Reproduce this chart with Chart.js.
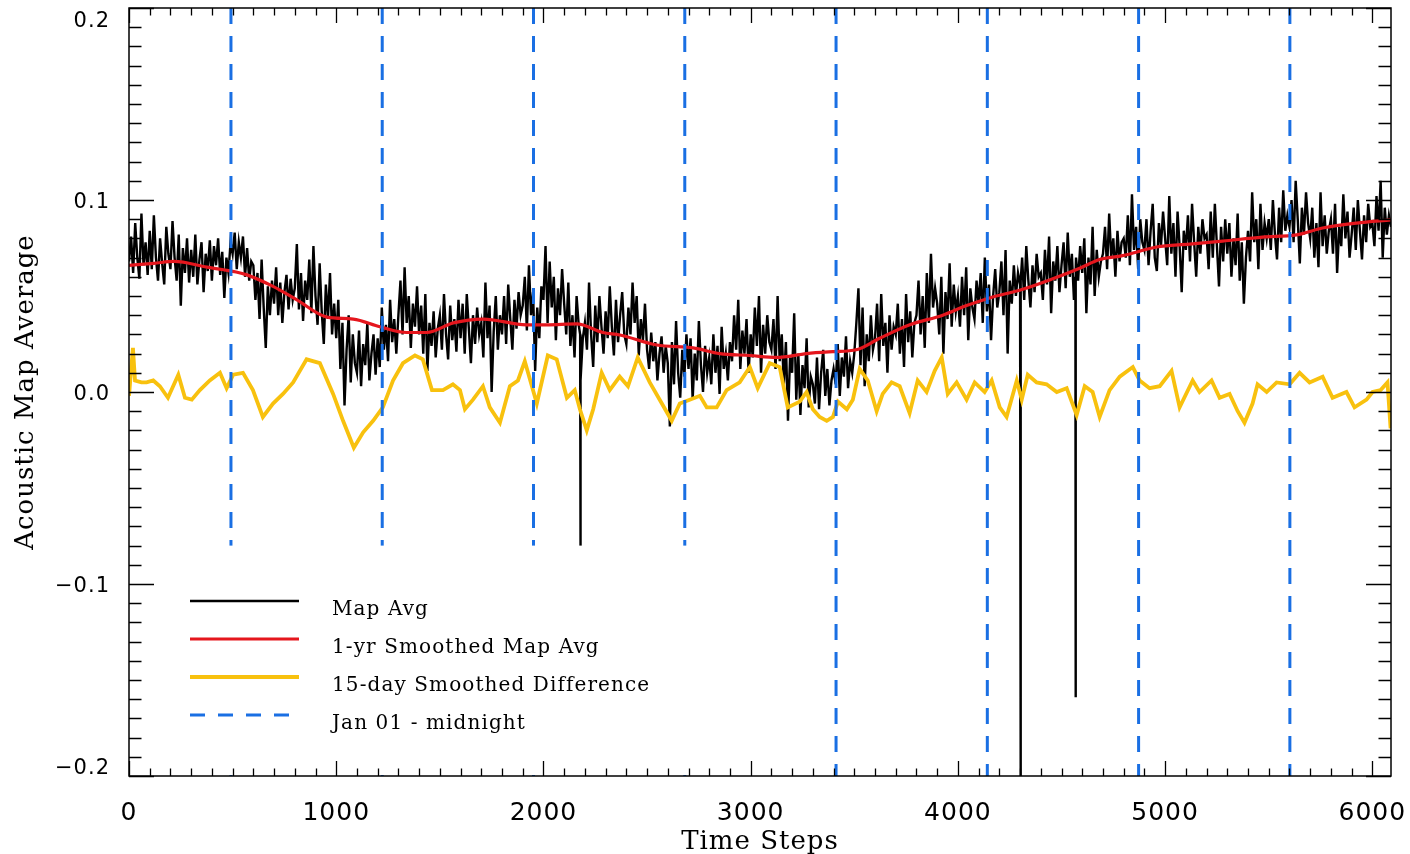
<!DOCTYPE html>
<html>
<head>
<meta charset="utf-8">
<script src="https://cdn.jsdelivr.net/npm/chart.js@4"></script>
<style>
  html, body { margin: 0; padding: 0; background: #fff; }
  #wrap { width: 1410px; height: 854px; }
</style>
</head>
<body>
<div id="wrap"><canvas id="chart" width="1410" height="854"></canvas></div>
<script>
  // Map Avg, one value every 10 time steps (one row = 100 steps)
  const STEP = 10;
  const mapAvg = [
    0.068, 0.081, 0.062, 0.088, 0.070, 0.059, 0.093, 0.066, 0.078, 0.061,   // 0
    0.084, 0.064, 0.092, 0.070, 0.058, 0.080, 0.067, 0.056, 0.086, 0.072,
    0.064, 0.089, 0.070, 0.058, 0.082, 0.045, 0.075, 0.062, 0.080, 0.057,
    0.074, 0.060, 0.082, 0.056, 0.069, 0.078, 0.052, 0.072, 0.063, 0.079,
    0.058, 0.076, 0.066, 0.080, 0.061, 0.073, 0.049, 0.070, 0.062, 0.078,
    0.072, 0.083, 0.064, 0.078, 0.070, 0.081, 0.060, 0.075, 0.058, 0.068,   // 500
    0.066, 0.048, 0.062, 0.038, 0.069, 0.044, 0.023, 0.055, 0.040, 0.058,
    0.046, 0.065, 0.040, 0.057, 0.036, 0.052, 0.061, 0.043, 0.059, 0.048,
    0.054, 0.077, 0.043, 0.062, 0.037, 0.058, 0.048, 0.069, 0.041, 0.076,
    0.050, 0.035, 0.067, 0.042, 0.025, 0.056, 0.038, 0.062, 0.030, 0.046,
    0.028, 0.048, 0.012, 0.036, -0.007, 0.022, 0.040, 0.005, 0.030, 0.015, // 1000
    0.010, 0.032, 0.003, 0.025, 0.014, 0.036, 0.006, 0.020, 0.030, 0.009,
    0.028, 0.013, 0.044, 0.022, 0.035, 0.016, 0.048, 0.026, 0.038, 0.020,
    0.040, 0.058, 0.030, 0.065, 0.036, 0.050, 0.023, 0.046, 0.034, 0.055,
    0.030, 0.045, 0.020, 0.051, 0.011, 0.036, 0.024, 0.042, 0.018, 0.033,
    0.040, 0.022, 0.051, 0.030, 0.017, 0.045, 0.027, 0.038, 0.021, 0.048,   // 1500
    0.028, 0.046, 0.020, 0.051, 0.033, 0.015, 0.040, 0.025, 0.044, 0.030,
    0.036, 0.018, 0.057, 0.028, 0.045, 0.000, 0.032, 0.050, 0.022, 0.040,
    0.030, 0.050, 0.025, 0.056, 0.038, 0.022, 0.048, 0.033, 0.052, 0.040,
    0.045, 0.060, 0.032, 0.066, 0.040, 0.052, 0.011, 0.044, 0.028, 0.055,
    0.048, 0.076, 0.036, 0.068, 0.044, 0.060, 0.027, 0.054, 0.040, 0.064,   // 2000
    0.046, 0.030, 0.057, 0.024, 0.040, 0.018, 0.050, 0.035, 0.006, 0.028,
    0.036, 0.022, 0.057, 0.030, 0.013, 0.045, 0.026, 0.050, 0.034, 0.020,
    0.042, 0.028, 0.055, 0.034, 0.019, 0.048, 0.026, 0.040, 0.052, 0.030,
    0.025, 0.044, 0.030, 0.057, 0.036, 0.050, 0.019, 0.038, 0.027, 0.046,
    0.022, 0.012, 0.031, 0.016, 0.026, 0.006, 0.020, 0.029, 0.010, 0.024,   // 2500
    0.015, -0.018, 0.026, 0.004, 0.037, 0.010, -0.003, 0.022, 0.008, 0.030,
    0.012, 0.028, -0.004, 0.020, 0.006, 0.037, 0.014, 0.000, 0.024, 0.010,
    0.018, 0.004, 0.030, 0.010, 0.024, -0.001, 0.034, 0.012, 0.020, 0.006,
    0.026, 0.016, 0.040, 0.022, 0.048, 0.012, 0.032, 0.020, 0.038, 0.010,
    0.030, 0.018, 0.044, 0.024, 0.050, 0.010, 0.035, 0.020, 0.040, 0.026,   // 3000
    0.022, 0.038, 0.012, 0.050, 0.016, 0.030, 0.004, 0.026, -0.015, 0.018,
    0.010, 0.041, -0.004, 0.020, -0.012, 0.014, 0.002, 0.028, -0.008, 0.008,
    0.004, -0.006, 0.018, -0.009, 0.010, 0.022, -0.002, 0.012, -0.007, 0.006,
    0.012, 0.004, 0.025, -0.002, 0.018, 0.008, 0.029, 0.002, 0.016, 0.010,
    0.020, 0.036, 0.054, 0.014, 0.044, 0.003, 0.030, 0.016, 0.040, 0.022,   // 3500
    0.028, 0.046, 0.016, 0.051, 0.024, 0.036, 0.010, 0.040, 0.022, 0.034,
    0.030, 0.046, 0.020, 0.038, 0.013, 0.051, 0.026, 0.042, 0.018, 0.036,
    0.040, 0.058, 0.030, 0.050, 0.023, 0.062, 0.036, 0.072, 0.044, 0.054,
    0.046, 0.030, 0.060, 0.020, 0.052, 0.038, 0.067, 0.034, 0.056, 0.042,
    0.050, 0.034, 0.060, 0.040, 0.065, 0.027, 0.054, 0.044, 0.038, 0.058,   // 4000
    0.046, 0.062, 0.036, 0.070, 0.042, 0.056, 0.027, 0.050, 0.064, 0.044,
    0.052, 0.068, 0.040, 0.074, 0.020, 0.058, 0.046, 0.066, 0.050, 0.062,
    0.056, 0.070, 0.048, 0.076, 0.058, 0.044, 0.066, 0.052, 0.072, 0.060,
    0.062, 0.048, 0.074, 0.056, 0.081, 0.041, 0.068, 0.058, 0.076, 0.052,
    0.066, 0.078, 0.054, 0.083, 0.060, 0.072, 0.048, 0.070, 0.058, 0.076,   // 4500
    0.062, 0.080, 0.041, 0.070, 0.056, 0.086, 0.050, 0.074, 0.060, 0.068,
    0.072, 0.086, 0.064, 0.093, 0.070, 0.080, 0.060, 0.084, 0.068, 0.078,
    0.080, 0.070, 0.092, 0.066, 0.103, 0.074, 0.086, 0.064, 0.090, 0.078,
    0.074, 0.090, 0.066, 0.084, 0.098, 0.070, 0.063, 0.088, 0.076, 0.094,
    0.080, 0.066, 0.102, 0.072, 0.088, 0.060, 0.094, 0.076, 0.052, 0.084,   // 5000
    0.074, 0.092, 0.068, 0.098, 0.078, 0.060, 0.086, 0.072, 0.090, 0.080,
    0.082, 0.064, 0.094, 0.070, 0.098, 0.076, 0.055, 0.086, 0.068, 0.090,
    0.072, 0.088, 0.060, 0.080, 0.066, 0.093, 0.058, 0.078, 0.046, 0.070,
    0.084, 0.068, 0.104, 0.078, 0.090, 0.064, 0.098, 0.074, 0.088, 0.080,
    0.090, 0.074, 0.100, 0.082, 0.069, 0.096, 0.078, 0.105, 0.084, 0.092,   // 5500
    0.086, 0.100, 0.078, 0.110, 0.090, 0.067, 0.096, 0.082, 0.104, 0.088,
    0.080, 0.096, 0.070, 0.088, 0.065, 0.104, 0.076, 0.092, 0.072, 0.084,
    0.090, 0.072, 0.098, 0.062, 0.086, 0.076, 0.103, 0.080, 0.094, 0.070,
    0.082, 0.096, 0.074, 0.100, 0.084, 0.069, 0.092, 0.078, 0.098, 0.086,
    0.088, 0.076, 0.102, 0.084, 0.110, 0.070, 0.096, 0.082, 0.092, 0.086    // 6000
  ];

  // single-step drop-outs in the Map Avg (step, value)
  const mapAvgDips = [
    [2177, 0.030], [2178, -0.081], [2179, 0.026],
    [4302, 0.052], [4303, -0.200], [4304, 0.058],
    [4567, 0.060], [4568, -0.159], [4569, 0.064]
  ];

  // 1-yr smoothed map average
  const smoothSteps = [0, 120, 218, 376, 517, 569, 695, 810, 955, 1082, 1211, 1340, 1437, 1565,
    1709, 1918, 2015, 2160, 2287, 2369, 2547, 2722, 2851, 2996, 3124, 3270, 3397, 3510, 3623,
    3768, 3927, 4042, 4153, 4313, 4458, 4588, 4684, 4795, 4959, 5118, 5277, 5470, 5634, 5760,
    5924, 6090];
  const smoothVals = [0.066, 0.067, 0.068, 0.065, 0.0625, 0.061, 0.055, 0.048, 0.039, 0.038,
    0.034, 0.031, 0.031, 0.036, 0.038, 0.035, 0.035, 0.0355, 0.031, 0.0297, 0.0245, 0.023,
    0.020, 0.019, 0.018, 0.020, 0.021, 0.022, 0.028, 0.035, 0.040, 0.045, 0.049, 0.0535,
    0.059, 0.0645, 0.069, 0.071, 0.0755, 0.077, 0.0786, 0.0807, 0.0818, 0.0854, 0.088, 0.0896];

  // 15-day smoothed difference
  const diffSteps = [0, 19, 29, 60, 85, 117, 149, 188, 238, 270, 303, 342, 390, 439, 471, 503,
    550, 598, 646, 695, 743, 792, 857, 921, 985, 1033, 1085, 1130, 1178, 1225, 1274, 1322,
    1380, 1418, 1462, 1515, 1563, 1597, 1621, 1660, 1708, 1741, 1790, 1838, 1877, 1910, 1968,
    2021, 2064, 2113, 2151, 2176, 2209, 2240, 2281, 2320, 2368, 2408, 2455, 2513, 2561, 2619,
    2658, 2706, 2755, 2788, 2836, 2884, 2947, 2996, 3034, 3092, 3140, 3179, 3237, 3270, 3300,
    3333, 3367, 3397, 3421, 3464, 3493, 3526, 3565, 3608, 3637, 3680, 3719, 3767, 3806, 3849,
    3888, 3922, 3951, 3994, 4042, 4081, 4129, 4163, 4202, 4235, 4284, 4308, 4337, 4380, 4428,
    4477, 4525, 4573, 4612, 4650, 4684, 4732, 4781, 4844, 4877, 4925, 4974, 5031, 5070, 5133,
    5166, 5224, 5263, 5311, 5350, 5383, 5422, 5446, 5490, 5538, 5601, 5649, 5697, 5760, 5808,
    5875, 5914, 5972, 6001, 6040, 6073, 6088];
  const diffVals = [-0.002, 0.023, 0.006, 0.005, 0.005, 0.006, 0.003, -0.003, 0.009, -0.003,
    -0.004, 0.001, 0.006, 0.010, 0.002, 0.009, 0.010, 0.001, -0.013, -0.006, -0.001, 0.005,
    0.017, 0.015, -0.001, -0.015, -0.029, -0.021, -0.015, -0.008, 0.006, 0.015, 0.019, 0.017,
    0.001, 0.001, 0.004, 0.001, -0.009, -0.004, 0.003, -0.008, -0.016, 0.003, 0.006, 0.016,
    -0.006, 0.019, 0.017, -0.003, 0.001, -0.009, -0.020, -0.009, 0.010, 0.001, 0.008, 0.003,
    0.018, 0.005, -0.004, -0.015, -0.006, -0.004, -0.002, -0.008, -0.008, 0.001, 0.005, 0.013,
    0.002, 0.015, 0.013, -0.008, -0.005, 0.000, -0.009, -0.013, -0.015, -0.013, -0.005, -0.009,
    -0.004, 0.012, 0.006, -0.010, -0.001, 0.005, 0.003, -0.011, 0.006, 0.000, 0.011, 0.018,
    -0.001, 0.005, -0.004, 0.005, 0.000, 0.006, -0.008, -0.013, 0.006, -0.004, 0.009, 0.005,
    0.004, 0.000, 0.002, -0.012, 0.003, 0.000, -0.013, 0.001, 0.008, 0.013, 0.006, 0.002, 0.003,
    0.011, -0.008, 0.006, 0.000, 0.006, -0.003, -0.001, -0.010, -0.016, -0.006, 0.004, 0.000,
    0.005, 0.004, 0.010, 0.005, 0.008, -0.003, 0.000, -0.008, -0.004, 0.000, 0.001, 0.005, -0.019];

  // Jan 01 - midnight markers (time step)
  const janSteps = [492, 1222, 1952, 2682, 3412, 4142, 4872, 5602];

  // axis ticks
  const xTickValues = [0, 1000, 2000, 3000, 4000, 5000, 6000];
  const yTickValues = [-0.2, -0.1, 0.0, 0.1, 0.2];

  const X_MAX = 6090;
  const Y_MIN = -0.2, Y_MAX = 0.2;

  const mapAvgPoints = mapAvg.map((v, i) => ({x: i * STEP, y: v}))
    .concat(mapAvgDips.map(([x, y]) => ({x, y})))
    .sort((a, b) => a.x - b.x);
  const smoothPoints = smoothSteps.map((s, i) => ({x: s, y: smoothVals[i]}));
  const diffPoints = diffSteps.map((s, i) => ({x: s, y: diffVals[i]}));
  const janPoints = [];
  janSteps.forEach(s => {
    janPoints.push({x: s, y: Y_MAX}, {x: s, y: Y_MIN}, {x: s, y: null});
  });

  function yLabel(v) {
    const txt = v === 0 ? '0.0' : v.toFixed(1).replace('-', '\u2212');
    // keep the end labels inside the box, like the original plot
    if (v === Y_MAX) return ['', txt];
    if (v === Y_MIN) return [txt, ''];
    return txt;
  }

  // IDL style box: inward ticks on all four sides + legend with white background
  const idlFrame = {
    id: 'idlFrame',
    beforeDraw(chart) {
      chart.ctx.letterSpacing = '1px';
    },
    afterDatasetsDraw(chart) {
      const {ctx, chartArea: a, scales: {x, y}} = chart;
      ctx.save();

      // legend background hides the dashed lines behind it
      const boxTop = y.getPixelForValue(-0.08);
      ctx.fillStyle = '#fff';
      ctx.fillRect(a.left + 1, boxTop, 705 - a.left, a.bottom - boxTop - 1);

      const ds = chart.data.datasets;
      ctx.font = '20px "DejaVu Serif"';
      ctx.letterSpacing = '1.1px';
      ctx.textBaseline = 'alphabetic';
      ctx.textAlign = 'left';
      ds.forEach((d, i) => {
        const ly = 601 + i * 38;
        ctx.beginPath();
        ctx.strokeStyle = d.borderColor;
        ctx.lineWidth = Math.max(d.borderWidth, 2.6);
        ctx.setLineDash(d.borderDash ? [15, 13] : []);
        ctx.moveTo(a.left + 61, ly);
        ctx.lineTo(a.left + 170, ly);
        ctx.stroke();
        ctx.fillStyle = '#000';
        ctx.fillText(d.label, a.left + 203, ly + 14);
      });

      // frame
      ctx.setLineDash([]);
      ctx.strokeStyle = '#000';
      ctx.lineWidth = 1.5;
      ctx.strokeRect(a.left, a.top, a.right - a.left, a.bottom - a.top);

      ctx.lineWidth = 1.3;
      ctx.beginPath();
      for (let v = 0; v <= X_MAX; v += 100) {
        const px = Math.round(x.getPixelForValue(v)) + 0.5;
        const len = v % 1000 === 0 ? 15 : 7.5;
        ctx.moveTo(px, a.bottom); ctx.lineTo(px, a.bottom - len);
        ctx.moveTo(px, a.top); ctx.lineTo(px, a.top + len);
      }
      for (let k = -20; k <= 20; k++) {
        const py = Math.round(y.getPixelForValue(k / 100)) + 0.5;
        const len = k % 10 === 0 ? 25 : 12.5;
        ctx.moveTo(a.left, py); ctx.lineTo(a.left + len, py);
        ctx.moveTo(a.right, py); ctx.lineTo(a.right - len, py);
      }
      ctx.stroke();
      ctx.restore();
    }
  };

  new Chart(document.getElementById('chart'), {
    type: 'line',
    data: {
      datasets: [
        {
          label: 'Map Avg',
          data: mapAvgPoints,
          borderColor: '#000000',
          borderWidth: 2.4,
          pointRadius: 0,
          tension: 0,
          order: 4
        },
        {
          label: '1-yr Smoothed Map Avg',
          data: smoothPoints,
          borderColor: '#e5161d',
          borderWidth: 3.2,
          pointRadius: 0,
          cubicInterpolationMode: 'monotone',
          order: 3
        },
        {
          label: '15-day Smoothed Difference',
          data: diffPoints,
          borderColor: '#f8c10e',
          borderWidth: 3.8,
          pointRadius: 0,
          tension: 0,
          order: 2
        },
        {
          label: 'Jan 01 - midnight',
          data: janPoints,
          borderColor: '#1a6fe3',
          borderWidth: 3,
          borderDash: [16, 12],
          pointRadius: 0,
          spanGaps: false,
          order: 1
        }
      ]
    },
    options: {
      responsive: false,
      devicePixelRatio: 1,
      animation: false,
      layout: { padding: { top: 8, right: 19, left: 0, bottom: 0 } },
      plugins: {
        legend: { display: false },
        tooltip: { enabled: false }
      },
      scales: {
        x: {
          type: 'linear',
          min: 0,
          max: X_MAX,
          grid: { display: false },
          border: { display: false },
          afterBuildTicks(s) { s.ticks = xTickValues.map(v => ({value: v})); },
          ticks: {
            autoSkip: false,
            maxRotation: 0,
            padding: 14,
            color: '#000',
            font: { family: '"DejaVu Sans"', size: 25 },
            callback: v => String(v)
          },
          title: {
            display: true,
            text: 'Time Steps',
            color: '#000',
            font: { family: '"DejaVu Serif"', size: 26, lineHeight: 0.9 },
            padding: { top: 0, bottom: 0 }
          },
          afterFit(s) { s.height = 78; s.paddingLeft = 0; s.paddingRight = 0; }
        },
        y: {
          min: Y_MIN,
          max: Y_MAX,
          grid: { display: false },
          border: { display: false },
          afterBuildTicks(s) { s.ticks = yTickValues.map(v => ({value: v})); },
          ticks: {
            padding: 11,
            labelOffset: 3,
            color: '#000',
            font: { family: '"DejaVu Sans"', size: 21, lineHeight: 1.0 },
            callback: yLabel
          },
          title: {
            display: true,
            text: 'Acoustic Map Average',
            color: '#000',
            font: { family: '"DejaVu Serif"', size: 26 },
            padding: { top: 11, bottom: 0 }
          },
          afterFit(s) { s.width = 129; s.paddingTop = 0; s.paddingBottom = 0; }
        }
      }
    },
    plugins: [idlFrame]
  });
</script>
</body>
</html>
